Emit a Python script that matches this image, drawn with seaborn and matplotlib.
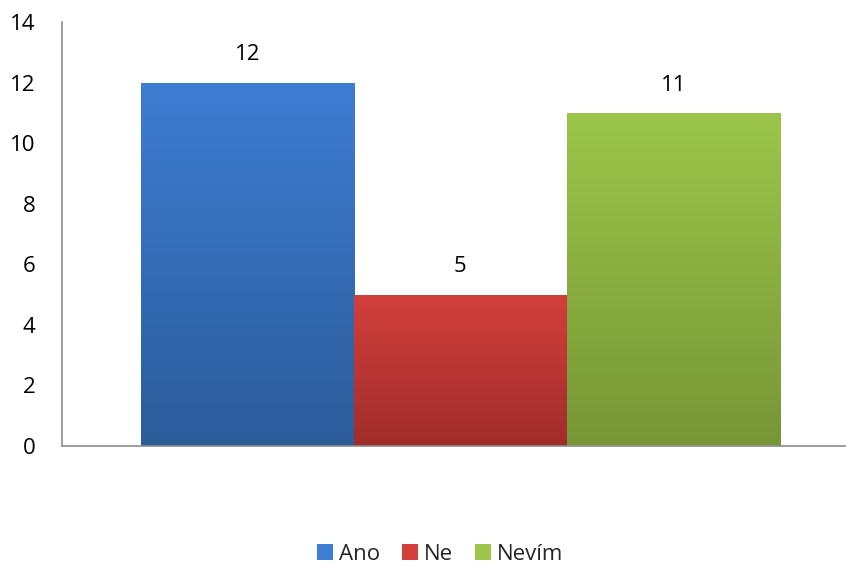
import numpy as np
import pandas as pd
import matplotlib
matplotlib.use("Agg")
import matplotlib.pyplot as plt
import seaborn as sns
from matplotlib.colors import LinearSegmentedColormap
from matplotlib.patches import Patch

categories = ["Ano", "Ne", "Nevím"]
values = [12, 5, 11]
yticks = [0, 2, 4, 6, 8, 10, 12, 14]

top_colors = ["#3D7DD2", "#D23F3C", "#9CC64A"]
bottom_colors = ["#2C5C9A", "#A02D2B", "#779636"]

sns.set_theme(style="white")
plt.rcParams["font.family"] = ["Open Sans", "DejaVu Sans"]

fig = plt.figure(figsize=(8.46, 5.66), dpi=100)
ax = fig.add_axes([62 / 846, 120 / 566, 784 / 846, 424 / 566])

df = pd.DataFrame({"cat": categories, "val": values})
sns.barplot(data=df, x="cat", y="val", hue="cat", palette=top_colors,
            width=1.0, dodge=False, legend=False, ax=ax, saturation=1)

ax.set_ylim(0, 14)
ax.set_xlim(-0.87, 2.81)
ax.set_yticks(yticks)
ax.set_yticklabels([str(t) for t in yticks], fontsize=16, color="black")
ax.tick_params(axis="y", length=0, pad=19)
ax.set_xticks([])
ax.set_xlabel("")
ax.set_ylabel("")
for s in ["top", "right"]:
    ax.spines[s].set_visible(False)
for s in ["left", "bottom"]:
    ax.spines[s].set_color("#8C8C8C")
    ax.spines[s].set_linewidth(1.2)

# gradient fill inside each bar
for i, patch in enumerate(ax.patches):
    x0, y0 = patch.get_x(), patch.get_y()
    w, h = patch.get_width(), patch.get_height()
    cmap = LinearSegmentedColormap.from_list("g", [bottom_colors[i], top_colors[i]])
    grad = np.linspace(0, 1, 256).reshape(-1, 1)
    im = ax.imshow(grad, cmap=cmap, aspect="auto", origin="lower",
                   extent=[x0, x0 + w, y0, y0 + h], zorder=patch.get_zorder() + 0.1)
    im.set_clip_path(patch)
    patch.set_edgecolor("none")

ax.set_xlim(-0.87, 2.81)
ax.set_ylim(0, 14)

for i, v in enumerate(values):
    ax.annotate(str(v), (i, v), xytext=(0, 20), textcoords="offset points",
                ha="center", va="center", fontsize=16, color="black")

handles = [Patch(facecolor=top_colors[i], edgecolor="none") for i in range(3)]
fig.legend(handles, categories, loc="center", bbox_to_anchor=(440 / 846, 1 - 554 / 566),
           ncol=3, frameon=False, fontsize=16, handlelength=0.72, handleheight=0.72,
           handletextpad=0.25, columnspacing=1.0)

fig.savefig("out.png", dpi=100)
